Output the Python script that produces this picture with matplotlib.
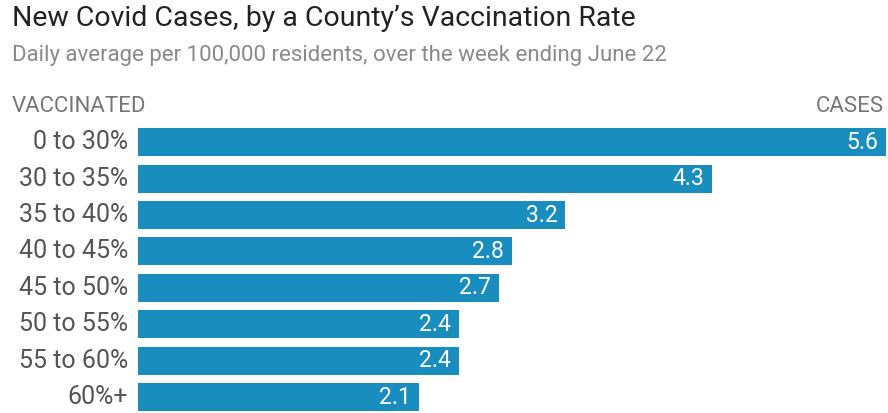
import matplotlib
matplotlib.use('Agg')
import matplotlib.pyplot as plt

# data
groups = ['0 to 30%', '30 to 35%', '35 to 40%', '40 to 45%',
          '45 to 50%', '50 to 55%', '55 to 60%', '60%+']
cases = [5.6, 4.3, 3.2, 2.8, 2.7, 2.4, 2.4, 2.1]

title = "New Covid Cases, by a County\u2019s Vaccination Rate"
subtitle = "Daily average per 100,000 residents, over the week ending June 22"

plt.rcParams['font.family'] = ['Roboto', 'DejaVu Sans']

W, H = 888, 413
fig = plt.figure(figsize=(W / 100, H / 100), dpi=100)

# axes placed in pixel terms
left, right, top, bottom = 138, 886, 124, 413
ax = fig.add_axes([left / W, 1 - bottom / H, (right - left) / W, (bottom - top) / H])

pitch = 36.4
ypos = list(range(len(groups)))
ax.barh(ypos, cases, height=0.77, color='#1a8dbf')
ax.set_xlim(0, 5.6)
ax.set_ylim(-0.5 + (bottom - top) / pitch, -0.5)
ax.axis('off')

for y, v, g in zip(ypos, cases, groups):
    ax.text(v - 0.06, y, f'{v:.1f}', color='white', fontsize=16.5,
            ha='right', va='center')
    ax.text(-0.075, y, g, color='#555555', fontsize=18,
            ha='right', va='center')

fig.text(12 / W, 1 - 19 / H, title, fontsize=20.5, color='#222222',
         ha='left', va='center')
fig.text(12 / W, 1 - 55 / H, subtitle, fontsize=16, color='#8a8a8a',
         ha='left', va='center')
fig.text(12 / W, 1 - 106 / H, 'VACCINATED', fontsize=16, color='#777777',
         ha='left', va='center')
fig.text(884 / W, 1 - 106 / H, 'CASES', fontsize=16, color='#777777',
         ha='right', va='center')

fig.savefig('out.png', dpi=100, facecolor='white')
